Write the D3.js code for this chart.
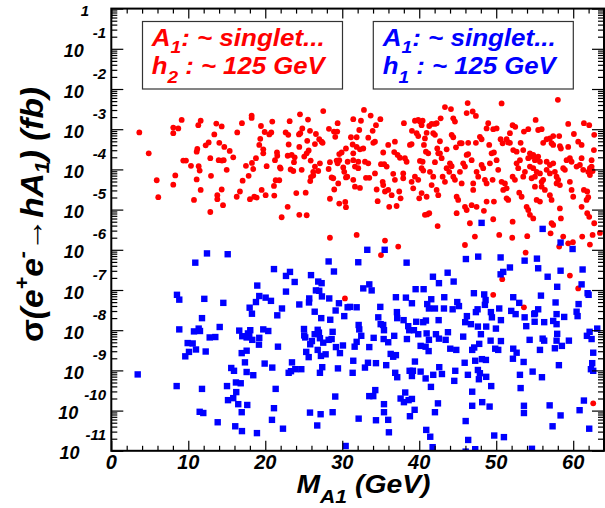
<!DOCTYPE html>
<html><head><meta charset="utf-8">
<script src="https://cdn.jsdelivr.net/npm/d3@7"></script>
<style>
body{margin:0;background:#fff}
svg{display:block}
text{font-family:"Liberation Sans",Arial,Helvetica,sans-serif;font-weight:bold;font-style:italic;fill:#000}
</style>
</head><body>
<svg id="chart" width="605" height="508"></svg>
<script>
// ---- data ----
const xMajorTicks = [0, 10, 20, 30, 40, 50, 60];
const xMinorTicks = [2,4,6,8,12,14,16,18,22,24,26,28,32,34,36,38,42,44,46,48,52,54,56,58,62,64];
const yDecadeExponents = [0,-1,-2,-3,-4,-5,-6,-7,-8,-9,-10,-11];
const yMinorMultipliers = [2,3,4,5,6,7,8,9];
const legendRed = ["A", "1", ": ~ singlet...", "h", "2", " : ~ 125 GeV"];
const legendBlue = ["A", "1", ": ~ singlet...", "h", "1", " : ~ 125 GeV"];
const xTitle = ["M", "A1", " (GeV)"];

// [M_A1 (GeV), log10 sigma(fb)]
const redPoints = [
[3.64,-3.08],[4.86,-3.60],[5.90,-4.27],[6.10,-4.69],[8.05,-2.96],[8.05,-3.10],[8.70,-2.98],[9.14,-2.77],[8.31,-4.15],[8.05,-4.38],
[9.35,-3.78],[9.70,-3.78],[10.35,-3.91],[10.74,-4.76],[11.09,-4.25],[11.09,-3.56],[11.17,-3.49],[11.30,-2.90],[11.61,-2.79],[11.35,-3.92],
[11.48,-4.03],[11.61,-4.51],[12.26,-3.40],[12.65,-3.33],[12.86,-3.72],[12.95,-4.16],[12.86,-5.06],[13.38,-3.13],[13.64,-2.86],[13.77,-4.64],
[13.77,-4.74],[14.03,-3.34],[14.34,-2.93],[14.34,-4.50],[14.51,-4.89],[13.95,-3.77],[14.38,-3.78],[14.60,-3.77],[14.68,-3.44],[14.99,-4.01],
[15.38,-3.54],[15.84,-3.70],[16.29,-4.68],[16.36,-3.08],[16.71,-4.55],[16.97,-2.85],[17.06,-4.28],[17.49,-3.91],[17.84,-4.16],[18.01,-4.74],
[18.23,-2.66],[18.23,-2.72],[18.27,-3.84],[18.44,-3.99],[18.57,-4.68],[18.88,-4.70],[18.79,-3.72],[19.22,-3.39],[19.35,-3.24],[19.44,-2.92],
[19.53,-4.51],[19.74,-3.50],[19.74,-3.60],[19.92,-3.07],[20.05,-4.64],[20.18,-3.92],[20.52,-3.13],[20.78,-3.08],[20.91,-2.81],[21.13,-4.41],
[21.17,-4.65],[21.26,-3.77],[21.52,-3.58],[21.56,-3.66],[21.35,-4.27],[21.82,-4.27],[21.91,-3.95],[22.00,-3.98],[22.13,-5.19],[22.65,-3.08],
[22.91,-4.93],[22.99,-3.14],[23.04,-3.38],[23.17,-2.80],[22.91,-3.66],[23.43,-3.64],[23.30,-4.00],[23.64,-4.04],[23.73,-3.82],[23.82,-3.70],
[24.03,-4.59],[24.42,-5.13],[24.38,-3.13],[24.55,-3.10],[24.42,-3.44],[24.51,-2.63],[24.81,-2.98],[24.73,-4.01],[25.06,-3.68],[25.38,-3.60],
[25.25,-4.58],[25.45,-3.29],[25.38,-5.14],[25.64,-3.53],[25.81,-3.04],[25.90,-3.78],[25.84,-4.29],[25.94,-4.19],[26.23,-4.06],[26.23,-4.15],
[26.45,-3.93],[26.58,-3.12],[26.45,-3.37],[26.88,-4.04],[27.10,-3.85],[27.01,-3.25],[27.32,-3.31],[27.45,-3.34],[27.53,-2.55],[28.27,-2.99],
[28.23,-3.99],[28.40,-3.82],[28.40,-4.73],[28.40,-5.70],[28.62,-4.20],[28.83,-4.22],[28.96,-4.50],[28.92,-3.06],[29.09,-3.19],[29.35,-3.06],
[29.40,-2.85],[29.27,-3.78],[29.40,-3.85],[29.61,-3.77],[29.48,-4.35],[29.61,-4.85],[29.61,-3.62],[29.92,-3.58],[30.13,-3.95],[30.26,-4.06],
[30.48,-4.20],[30.65,-4.18],[30.48,-3.48],[30.39,-4.81],[30.48,-4.94],[30.70,-3.81],[25.55,-2.76],[30.35,-7.21],
[32.82,-2.52],[33.69,-2.66],[31.43,-2.75],[32.43,-2.79],[34.95,-2.75],[34.38,-2.90],[32.21,-3.02],[33.95,-3.04],[31.13,-3.20],[31.87,-3.20],
[33.38,-3.21],[34.03,-3.34],[34.25,-3.31],[31.35,-3.38],[31.87,-3.44],[32.30,-3.50],[32.73,-3.48],[31.43,-3.60],[35.32,-3.58],[35.97,-3.39],
[36.84,-3.31],[36.75,-3.57],[37.19,-3.64],[38.01,-2.85],[37.49,-3.71],[38.79,-3.39],[39.01,-3.37],[39.05,-3.04],[39.44,-2.79],[39.87,-2.77],
[40.09,-2.81],[40.31,-2.90],[40.44,-2.79],[39.66,-3.10],[39.87,-3.17],[40.74,-3.23],[40.96,-3.09],[41.30,-2.92],[41.61,-2.87],[42.04,-2.87],
[42.26,-2.85],[41.82,-3.10],[42.04,-3.14],[40.61,-3.39],[40.87,-3.56],[41.17,-3.60],[42.69,-3.30],[42.78,-2.73],[42.34,-3.48],[42.47,-3.60],
[43.34,-2.45],[44.12,-2.50],[44.21,-3.14],[44.42,-3.20],[44.42,-2.73],[44.64,-2.81],[44.77,-3.45],[43.56,-3.50],[45.29,-3.35],[45.51,-3.35],
[46.29,-2.35],[46.16,-2.60],[46.94,-2.56],[47.36,-2.67],[46.36,-3.34],[46.16,-3.64],[46.36,-3.62],[47.36,-3.34],[48.10,-3.25],[47.88,-3.19],
[48.75,-2.98],[48.96,-2.85],[49.61,-3.00],[50.05,-2.98],[49.09,-3.39],[49.40,-3.60],[49.70,-3.58],[50.70,-2.36],[50.57,-3.25],[50.83,-3.35],
[51.35,-3.25],[51.56,-3.33],[51.78,-3.34],[52.13,-2.90],[52.47,-2.94],[51.78,-3.10],[52.21,-3.52],[52.65,-3.56],[53.17,-3.34],[53.51,-3.52],
[53.60,-3.06],[54.16,-3.00],[54.38,-3.60],[54.81,-3.64],[55.45,-3.02],[55.90,-3.00],[56.55,-3.25],[56.97,-3.23],[57.40,-3.39],[57.19,-3.35],
[56.10,-3.34],[57.40,-3.17],[58.18,-3.17],[58.01,-2.27],[59.35,-2.87],[60.09,-3.12],[60.65,-3.31],[61.09,-3.39],[61.39,-2.85],[62.08,-2.90],
[62.73,-3.14],[62.69,-3.52],[55.12,-2.77],
[31.43,-3.77],[32.08,-3.81],[32.95,-3.81],[33.38,-3.85],[31.65,-3.93],[32.08,-3.97],[33.08,-4.21],[33.51,-4.21],[31.43,-4.26],[31.65,-4.43],
[32.30,-4.46],[34.25,-4.10],[34.47,-4.50],[34.60,-4.79],[35.03,-3.87],[35.45,-3.87],[35.77,-3.93],[35.25,-4.31],[35.32,-4.39],[35.55,-4.55],
[35.97,-4.51],[36.10,-4.93],[37.06,-4.91],[36.42,-4.64],[36.62,-4.11],[36.84,-4.26],[37.40,-4.55],[37.58,-4.72],[37.92,-4.10],[37.92,-4.22],
[38.14,-3.72],[38.36,-3.81],[39.01,-4.31],[39.22,-4.47],[39.44,-4.18],[39.87,-4.26],[40.09,-3.79],[40.44,-3.81],[40.31,-3.97],[40.52,-4.03],
[40.00,-4.72],[40.31,-4.59],[40.96,-4.68],[40.74,-5.13],[41.04,-5.12],[41.30,-5.09],[41.39,-4.06],[41.61,-4.39],[41.82,-4.18],[42.04,-3.82],
[42.26,-4.51],[42.47,-4.64],[42.39,-5.41],[42.69,-3.60],[42.91,-3.72],[43.04,-4.18],[43.34,-4.31],[43.56,-3.97],[43.90,-4.06],[43.99,-3.85],
[44.21,-3.92],[44.42,-4.18],[44.64,-4.26],[44.86,-4.68],[45.06,-4.76],[45.29,-4.06],[45.51,-4.35],[44.86,-5.09],[45.71,-3.85],[45.94,-3.93],
[45.94,-4.93],[46.16,-5.01],[46.81,-3.77],[47.01,-4.35],[47.01,-4.51],[47.45,-4.06],[47.66,-4.18],[47.45,-4.93],[46.58,-5.34],[46.81,-4.89],
[48.10,-3.89],[48.31,-3.97],[48.53,-4.26],[48.75,-4.35],[48.75,-4.80],[48.40,-5.03],[49.18,-3.85],[49.53,-4.26],[49.70,-4.80],[49.61,-5.24],
[50.05,-3.77],[50.26,-4.01],[50.70,-4.31],[51.13,-4.35],[50.91,-4.51],[51.35,-4.47],[51.35,-4.72],[51.56,-4.76],[52.13,-4.18],[52.43,-4.26],
[52.13,-5.30],[52.65,-3.85],[53.08,-3.77],[52.86,-3.97],[52.99,-4.58],[53.30,-4.68],[53.51,-4.18],[53.73,-4.06],[53.95,-4.93],[54.16,-5.01],
[54.38,-5.13],[54.81,-5.22],[54.16,-3.72],[54.60,-3.68],[55.03,-3.77],[55.25,-3.72],[55.45,-3.68],[55.68,-3.81],[54.38,-3.93],[54.81,-3.97],
[55.25,-4.06],[55.68,-4.10],[54.60,-4.22],[55.03,-4.18],[55.03,-4.43],[55.25,-4.76],[55.68,-4.80],[55.90,-4.31],[56.10,-4.26],[55.90,-4.43],
[56.32,-4.51],[56.55,-4.01],[56.97,-4.10],[56.55,-3.81],[56.97,-3.89],[57.40,-3.85],[56.97,-4.64],[57.19,-4.76],[57.19,-5.34],[57.40,-5.38],
[57.62,-4.06],[57.84,-4.18],[57.84,-4.35],[58.05,-4.26],[58.27,-4.39],[58.27,-4.97],[58.40,-5.22],[58.70,-3.97],[58.92,-4.01],[59.14,-3.77],
[59.57,-3.72],[59.79,-3.81],[59.57,-4.31],[59.79,-4.51],[60.00,-4.68],[60.44,-3.93],[60.87,-3.89],[61.30,-4.01],[61.09,-4.93],[61.39,-4.51],
[61.82,-4.55],[61.74,-4.76],[61.95,-4.69],[61.82,-5.09],[62.08,-5.18],[61.95,-4.06],[62.17,-3.97],[62.39,-3.93],[62.17,-4.14],[62.52,-4.04],
[62.73,-5.34],[62.52,-5.63],[58.27,-3.42],[58.40,-3.48],[59.35,-3.44],[61.09,-3.72],[62.39,-3.77],
[31.87,-5.63],[35.55,-5.77],[37.27,-5.92],[35.03,-6.13],[45.94,-5.88],[47.23,-5.67],[50.39,-5.63],[52.08,-5.70],[54.03,-5.66],[53.82,-6.07],
[57.06,-5.59],[58.70,-5.67],[59.35,-5.84],[59.96,-5.81],[61.17,-5.67],[62.17,-5.87],[63.47,-5.58],[50.78,-6.73],[49.61,-7.12],[53.60,-7.43],
[59.57,-6.64],[60.65,-6.96],[58.18,-5.92],[62.60,-9.82]
];

const bluePoints = [
[12.43,-6.09],[15.12,-6.11],[10.91,-6.32],[21.13,-6.48],[22.69,-6.65],[23.21,-6.55],[23.82,-6.80],[25.94,-6.63],[26.88,-6.79],[27.32,-6.83],
[28.23,-6.29],[28.92,-6.54],[18.96,-6.89],[22.69,-7.04],[26.58,-7.01],[27.01,-7.02],[25.71,-7.21],[25.68,-7.31],[27.36,-7.16],[28.31,-7.21],
[29.57,-7.33],[30.70,-7.43],[8.53,-7.12],[8.83,-7.24],[12.08,-7.22],[14.55,-7.32],[19.22,-7.15],[18.79,-7.30],[20.05,-7.19],[20.74,-7.27],
[17.97,-7.44],[18.27,-7.59],[22.17,-7.46],[24.42,-7.36],[21.56,-7.63],[26.42,-7.54],[27.27,-7.70],[28.44,-7.74],[30.26,-7.65],[29.14,-7.51],
[11.78,-7.70],[8.83,-7.98],[10.74,-8.03],[11.35,-7.96],[11.52,-8.02],[14.08,-7.92],[12.78,-8.18],[13.51,-8.17],[9.92,-8.32],[10.57,-8.33],
[11.00,-8.48],[10.09,-8.54],[9.61,-8.65],[12.26,-8.53],[16.62,-8.01],[17.01,-8.15],[17.75,-8.08],[18.05,-8.00],[17.58,-8.18],[17.92,-8.14],
[18.31,-8.24],[19.22,-8.19],[19.18,-8.36],[19.74,-7.98],[20.39,-8.02],[21.65,-8.41],[16.94,-8.57],[17.58,-8.51],[15.58,-8.94],[15.94,-9.01],
[17.36,-8.80],[17.58,-9.04],[18.44,-9.12],[19.92,-8.83],[20.91,-8.93],[23.47,-8.80],[23.04,-9.06],[23.34,-9.02],[23.90,-8.97],[24.68,-8.97],
[25.03,-7.97],[25.06,-8.13],[25.19,-8.18],[25.84,-8.35],[25.32,-8.54],[25.64,-8.67],[26.06,-8.27],[26.42,-8.10],[26.81,-7.99],[26.97,-8.06],
[27.10,-8.20],[27.53,-8.31],[28.23,-8.24],[28.62,-8.22],[26.81,-8.49],[27.23,-8.64],[27.84,-8.60],[28.75,-8.04],[29.18,-8.42],[29.70,-8.57],
[30.09,-8.38],[27.40,-8.92],[27.10,-9.06],[29.44,-8.95],[3.43,-9.10],[8.49,-9.39],[11.78,-9.46],[15.03,-9.39],[16.19,-9.30],[16.81,-9.32],
[16.23,-9.54],[15.84,-9.69],[15.16,-9.74],[16.49,-9.84],[17.66,-9.86],[21.35,-9.46],[29.09,-9.65],[11.48,-10.03],[11.95,-10.06],[16.94,-10.04],
[21.13,-9.94],[25.81,-10.05],[27.19,-10.09],[28.75,-10.04],[13.82,-10.29],[16.10,-10.39],[16.97,-10.51],[18.92,-10.56],[20.87,-10.23],[22.30,-10.45],
[26.75,-10.37],[30.44,-10.88],
[33.25,-6.00],[35.51,-6.00],[32.08,-6.31],[38.36,-6.32],[46.06,-6.23],[47.66,-6.17],[50.57,-6.19],[53.69,-6.27],[55.29,-6.22],[58.36,-5.82],
[59.92,-5.98],[51.78,-6.44],[50.57,-6.61],[50.91,-6.55],[55.45,-6.46],[58.36,-6.52],[61.22,-6.49],[56.68,-6.67],[43.69,-6.57],[41.78,-6.67],
[44.47,-6.79],[42.56,-6.83],[57.92,-6.92],[61.09,-6.86],[32.73,-6.96],[33.51,-6.86],[33.82,-7.01],[39.53,-6.98],[40.57,-6.98],[47.10,-7.08],
[48.44,-7.11],[55.81,-7.14],[61.87,-7.08],[62.00,-7.12],[36.97,-7.18],[38.27,-7.19],[39.05,-7.33],[41.56,-7.23],[43.25,-7.18],[48.62,-7.25],
[52.21,-7.18],[57.71,-7.31],[60.70,-7.35],[52.99,-7.32],[31.00,-7.42],[31.87,-7.43],[34.94,-7.42],[41.04,-7.35],[41.26,-7.46],[42.04,-7.46],
[43.21,-7.46],[44.34,-7.48],[44.94,-7.30],[45.16,-7.40],[48.53,-7.37],[47.58,-7.48],[50.39,-7.46],[51.95,-7.52],[52.52,-7.60],[55.45,-7.48],
[55.03,-7.58],[60.44,-7.54],[60.57,-7.65],[57.84,-7.60],[47.36,-7.55],[49.31,-7.55],[49.44,-7.68],[37.10,-7.55],[37.14,-7.70],[34.68,-7.68],
[37.97,-7.75],[46.19,-7.65],[50.61,-7.75],[53.69,-7.68],[54.94,-7.60],[54.99,-7.79],[56.23,-7.80],[57.40,-7.77],[58.83,-7.67],[42.52,-7.75],
[40.52,-7.80],[40.87,-7.76],[39.61,-7.79],[45.97,-7.80],[46.71,-7.85],[47.62,-7.91],[48.70,-7.91],[49.96,-7.96],[53.90,-7.90],[57.84,-7.85],
[57.92,-8.09],[32.13,-7.87],[32.21,-7.98],[35.32,-7.87],[35.42,-8.00],[34.99,-7.85],[38.57,-7.90],[38.70,-8.00],[39.31,-8.00],[39.87,-8.10],
[40.96,-8.08],[42.17,-8.10],[43.73,-8.05],[45.71,-8.16],[48.01,-8.10],[49.27,-8.26],[50.61,-8.27],[54.34,-8.24],[56.03,-8.21],[56.23,-8.26],
[57.84,-8.26],[59.44,-8.26],[61.78,-8.14],[62.13,-8.04],[63.12,-7.96],[62.39,-8.22],[32.47,-8.14],[34.08,-8.19],[35.38,-8.22],[36.75,-8.14],
[38.40,-8.22],[41.26,-8.24],[42.56,-8.21],[43.43,-8.24],[31.87,-8.29],[31.61,-8.41],[33.51,-8.42],[35.97,-8.30],[40.18,-8.39],[40.83,-8.41],
[41.22,-8.52],[44.03,-8.46],[44.81,-8.49],[46.88,-8.49],[47.14,-8.43],[47.79,-8.34],[49.87,-8.46],[50.26,-8.49],[52.21,-8.46],[52.65,-8.56],
[55.68,-8.49],[57.62,-8.45],[58.53,-8.39],[62.60,-8.56],[36.29,-8.59],[36.62,-8.66],[36.97,-8.62],[31.43,-8.76],[33.34,-8.81],[34.38,-8.82],
[35.71,-8.87],[39.44,-8.78],[45.90,-8.81],[47.27,-8.76],[48.14,-8.72],[48.66,-8.74],[52.17,-8.71],[53.56,-8.79],[58.14,-8.87],[62.47,-8.82],
[32.95,-8.93],[42.60,-8.92],[62.30,-8.97],[62.60,-9.01],[31.35,-9.06],[36.88,-9.06],[37.14,-9.17],[38.75,-9.01],[39.18,-9.01],[39.05,-9.14],
[40.18,-9.03],[40.83,-9.20],[41.82,-9.11],[42.95,-9.09],[44.68,-9.01],[44.55,-9.26],[46.32,-9.11],[47.62,-8.99],[47.88,-9.07],[47.75,-9.22],
[48.70,-9.16],[53.08,-9.11],[54.73,-9.03],[55.94,-9.17],[41.52,-9.41],[49.35,-9.39],[53.17,-9.44],[46.88,-9.53],[34.29,-9.49],[33.51,-9.64],
[34.03,-9.64],[38.18,-9.55],[37.58,-9.70],[38.01,-9.79],[38.62,-9.74],[39.05,-9.71],[35.42,-9.84],[42.43,-9.82],[48.18,-9.79],[49.14,-9.90],
[53.60,-9.88],[56.94,-9.87],[61.39,-9.75],[60.83,-9.99],[35.42,-10.04],[39.40,-9.98],[42.04,-10.04],[46.88,-9.88],[53.60,-10.06],[58.36,-10.12],
[32.13,-10.20],[34.38,-10.24],[35.97,-10.23],[38.79,-10.14],[46.03,-10.26],[57.32,-10.39],[62.08,-10.45],[36.06,-10.54],[40.91,-10.48],[41.43,-10.65],
[49.74,-10.62],[51.00,-10.66],[46.36,-10.73],[41.74,-10.91],[47.27,-10.96],[54.64,-10.95],[46.03,-11.02],[48.10,-5.33],[56.03,-5.48]
];

// ---- layout ----
const svg = d3.select("#chart");
const X0 = 111.3, X1 = 604, Y0 = 450.8, Y1 = 8.6;
const x = d3.scaleLinear().domain([0, 64]).range([X0, X1]);
const y = d3.scaleLog().domain([1e-11, 1]).range([Y0, Y1]);
const RED = "#ff0000", BLUE = "#0000ff";

svg.append("rect").attr("width", 605).attr("height", 508).attr("fill", "#fff");

svg.append("defs").append("clipPath").attr("id", "plotClip")
  .append("rect").attr("x", X0).attr("y", Y1).attr("width", X1 - X0).attr("height", Y0 - Y1);

// points
const plot = svg.append("g").attr("clip-path", "url(#plotClip)");
plot.selectAll("circle.red").data(redPoints).join("circle")
  .attr("class", "red")
  .attr("cx", d => x(d[0])).attr("cy", d => y(Math.pow(10, d[1])))
  .attr("r", 2.9).attr("fill", RED);
plot.selectAll("rect.blue").data(bluePoints).join("rect")
  .attr("class", "blue")
  .attr("x", d => x(d[0]) - 3.2).attr("y", d => y(Math.pow(10, d[1])) - 3.2)
  .attr("width", 6.4).attr("height", 6.4).attr("fill", BLUE);

// axes (ticks drawn inward)
function styleAxis(g) {
  g.select(".domain").remove();
  g.selectAll(".tick line").attr("stroke", "#000").attr("stroke-width", 1.2);
  g.selectAll(".tick text").remove();
}
const yMinor = [];
yDecadeExponents.forEach(e => { if (e < 0) yMinorMultipliers.forEach(m => yMinor.push(m * Math.pow(10, e))); });
const yMajor = yDecadeExponents.map(e => Math.pow(10, e));

svg.append("g").attr("transform", `translate(0,${Y0})`).call(d3.axisBottom(x).tickValues(xMajorTicks).tickSize(-10)).call(styleAxis);
svg.append("g").attr("transform", `translate(0,${Y0})`).call(d3.axisBottom(x).tickValues(xMinorTicks).tickSize(-5)).call(styleAxis);
svg.append("g").attr("transform", `translate(0,${Y1})`).call(d3.axisTop(x).tickValues(xMajorTicks).tickSize(-10)).call(styleAxis);
svg.append("g").attr("transform", `translate(0,${Y1})`).call(d3.axisTop(x).tickValues(xMinorTicks).tickSize(-5)).call(styleAxis);
svg.append("g").attr("transform", `translate(${X0},0)`).call(d3.axisLeft(y).tickValues(yMajor).tickSize(-12)).call(styleAxis);
svg.append("g").attr("transform", `translate(${X0},0)`).call(d3.axisLeft(y).tickValues(yMinor).tickSize(-6)).call(styleAxis);
svg.append("g").attr("transform", `translate(${X1},0)`).call(d3.axisRight(y).tickValues(yMajor).tickSize(-12)).call(styleAxis);
svg.append("g").attr("transform", `translate(${X1},0)`).call(d3.axisRight(y).tickValues(yMinor).tickSize(-6)).call(styleAxis);

// frame
svg.append("rect").attr("x", X0).attr("y", Y1).attr("width", X1 - X0).attr("height", Y0 - Y1)
  .attr("fill", "none").attr("stroke", "#000").attr("stroke-width", 2);

// x tick labels
svg.append("g").selectAll("text").data(xMajorTicks).join("text")
  .attr("x", d => x(d)).attr("y", 469).attr("text-anchor", "middle")
  .attr("font-size", 20).text(d => d);

// y tick labels
const yl = svg.append("g");
yDecadeExponents.forEach(e => {
  const py = y(Math.pow(10, e));
  if (e === 0) {
    yl.append("text").attr("x", 89).attr("y", py + 7).attr("text-anchor", "end")
      .attr("font-size", 15).text("1");
  } else {
    const t = yl.append("text").attr("x", 106).attr("y", py + 8.5).attr("text-anchor", "end");
    t.append("tspan").attr("font-size", 18).text("10");
    t.append("tspan").attr("font-size", 15).attr("dx", e <= -10 ? 6 : 9).attr("dy", -19).text(String(e));
  }
});

// x title
const xt = svg.append("text").attr("x", 296.5).attr("y", 493).attr("font-size", 25.5)
  .attr("textLength", 134).attr("lengthAdjust", "spacingAndGlyphs");
xt.append("tspan").text(xTitle[0]);
xt.append("tspan").attr("font-size", 19).attr("dy", 9.5).text(xTitle[1]);
xt.append("tspan").attr("dy", -9.5).text(xTitle[2]);

// y title
const ytitle = svg.append("text").attr("transform", "translate(43,214.5) rotate(-90)")
  .attr("text-anchor", "middle").attr("font-size", 31)
  .attr("textLength", 255).attr("lengthAdjust", "spacingAndGlyphs");
ytitle.append("tspan").attr("font-style", "normal").text("σ");
ytitle.append("tspan").text("(e");
ytitle.append("tspan").attr("font-size", 20).attr("dy", -14).text("+");
ytitle.append("tspan").attr("dy", 14).text("e");
ytitle.append("tspan").attr("font-size", 20).attr("dy", -14).text("-");
ytitle.append("tspan").attr("dy", 14).attr("font-style", "normal").text("→");
ytitle.append("tspan").text("hA");
ytitle.append("tspan").attr("font-size", 20).attr("dy", 6).text("1");
ytitle.append("tspan").attr("dy", -6).text(") (fb)");

// legend boxes
function legendBox(bx, tx, labels, color) {
  svg.append("rect").attr("x", bx).attr("y", 21.5).attr("width", 200).attr("height", 67.5)
    .attr("fill", "#fff").attr("stroke", "#333").attr("stroke-width", 1.2);
  const l1 = svg.append("text").attr("x", tx).attr("y", 45.5).attr("font-size", 23)
    .attr("textLength", 173).attr("lengthAdjust", "spacingAndGlyphs").style("fill", color);
  l1.append("tspan").text(labels[0]);
  l1.append("tspan").attr("font-size", 17).attr("dy", 7.5).text(labels[1]);
  l1.append("tspan").attr("dy", -7.5).text(labels[2]);
  const l2 = svg.append("text").attr("x", tx).attr("y", 73.5).attr("font-size", 23)
    .attr("textLength", 173).attr("lengthAdjust", "spacingAndGlyphs").style("fill", color);
  l2.append("tspan").text(labels[3]);
  l2.append("tspan").attr("font-size", 17).attr("dy", 9).text(labels[4]);
  l2.append("tspan").attr("dy", -9).text(labels[5]);
}
legendBox(142.5, 151.7, legendRed, RED);
legendBox(373.3, 382.8, legendBlue, BLUE);
</script>
</body></html>
